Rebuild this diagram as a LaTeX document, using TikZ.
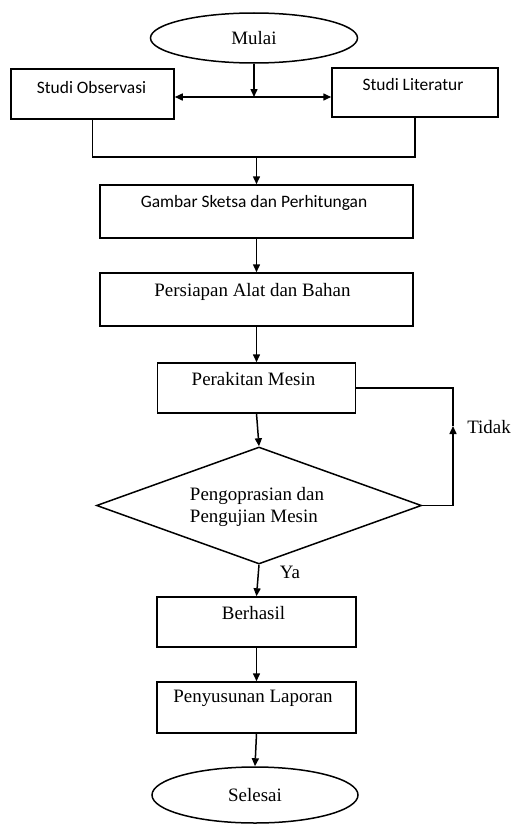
\documentclass[tikz,border=0pt]{standalone}
\usepackage{fontspec}
\setmainfont{Liberation Serif}
\newfontfamily\calfont{Carlito}
\usetikzlibrary{shapes.geometric,arrows.meta}
\begin{document}
\begin{tikzpicture}[x=1bp,y=-1bp,
  line width=1.5bp,
  box/.style={draw,rectangle,inner sep=0pt},
  oval/.style={draw,ellipse,inner sep=0pt,font=\fontsize{19}{22}\selectfont},
  stxt/.style={inner sep=0pt,font=\fontsize{19}{22}\selectfont},
  ctxt/.style={inner sep=0pt,font=\calfont\fontsize{17.5}{21}\selectfont},
  arr/.style={-{Triangle[length=8bp,width=7bp]}}]
\useasboundingbox (0,0) rectangle (515,827);
% nodes
\node[oval,minimum width=207bp,minimum height=50bp] (mulai) at (254,38) {Mulai};
\node[box,minimum width=163bp,minimum height=50bp] (obs) at (92.5,94) {};
\node[ctxt] (obst) at (91.5,88) {Studi Observasi};
\node[box,minimum width=166bp,minimum height=49bp] (lit) at (415,92.5) {};
\node[ctxt] (litt) at (413,85) {Studi Literatur};
\node[box,minimum width=313bp,minimum height=53bp] (gambar) at (256.5,211.5) {};
\node[ctxt] (gambart) at (254,203) {Gambar Sketsa dan Perhitungan};
\node[box,minimum width=313bp,minimum height=53bp] (persiapan) at (256.5,299.5) {};
\node[stxt] (persiapant) at (252.5,292) {Persiapan Alat dan Bahan};
\node[box,minimum width=198bp,minimum height=50bp] (perakitan) at (256.5,388) {};
\node[stxt] (perakitant) at (253.5,379) {Perakitan Mesin};
\node[draw,diamond,inner sep=0pt,minimum width=325bp,minimum height=117bp] (uji) at (259,505.5) {};
\node[stxt,align=left] (ujit) at (257,507) {Pengoprasian dan\\Pengujian Mesin};
\node[box,minimum width=199bp,minimum height=50bp] (berhasil) at (256.5,622) {};
\node[stxt] (berhasilt) at (253.5,613) {Berhasil};
\node[box,minimum width=199bp,minimum height=51bp] (laporan) at (256.5,707.5) {};
\node[stxt] (laporant) at (253,698) {Penyusunan Laporan};
\node[oval,minimum width=206bp,minimum height=56bp] (selesai) at (255,795) {Selesai};
\node[stxt] (tidak) at (489,427) {Tidak};
\node[stxt] (ya) at (290,572) {Ya};
% coordinates
\coordinate (split) at (254,97);
\coordinate (join) at (256.5,157);
\coordinate (loop) at (453,505.5);
\coordinate (mid) at (453,426);
% connectors
\draw[arr] (mulai.south) -- (split);
\draw[arr] (split) -- (split -| obs.east);
\draw[arr] (split) -- (split -| lit.west);
\draw (obs.south) -- (obs.south |- join) -- (lit.south |- join) -- (lit.south);
\draw[arr] (join) -- (gambar.north);
\draw[arr] (gambar.south) -- (persiapan.north);
\draw[arr] (persiapan.south) -- (perakitan.north);
\draw[arr] (perakitan.south) -- (uji.north);
\draw[arr] (uji.south) -- (berhasil.north);
\draw[arr] (berhasil.south) -- (laporan.north);
\draw[arr] (laporan.south) -- (selesai.north);
\draw[arr] (uji.east) -- (loop) -- (mid);
\draw (mid) -- (loop |- perakitan.east) -- (perakitan.east);
\end{tikzpicture}
\end{document}
